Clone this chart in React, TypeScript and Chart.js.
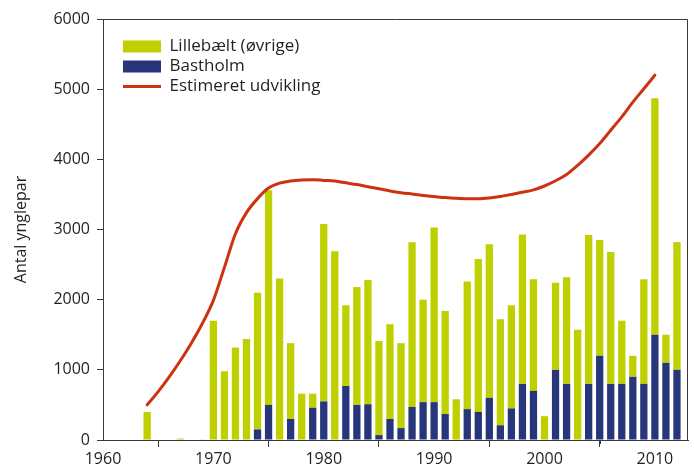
import React, { useEffect, useRef } from "react";
import { Chart, registerables } from "chart.js";

Chart.register(...registerables);

// ---- Data ----
const barYears = [
  1964, 1967, 1969, 1970, 1971, 1972, 1973, 1974, 1975, 1976, 1977, 1978, 1979,
  1980, 1981, 1982, 1983, 1984, 1985, 1986, 1987, 1988, 1989, 1990, 1991, 1992,
  1993, 1994, 1995, 1996, 1997, 1998, 1999, 2000, 2001, 2002, 2003, 2004, 2005,
  2006, 2007, 2008, 2009, 2010, 2011, 2012,
];
const bastholm = [
  0, 0, 0, 0, 0, 0, 0, 150, 500, 0, 300, 0, 460,
  550, 0, 770, 500, 510, 70, 300, 170, 470, 540, 540, 370, 0,
  440, 400, 600, 210, 450, 800, 700, 0, 1000, 800, 0, 800, 1200,
  800, 800, 900, 800, 1500, 1100, 1000,
];
const lillebaelt = [
  400, 20, 10, 1700, 980, 1320, 1440, 1950, 3060, 2300, 1080, 660, 200,
  2530, 2690, 1150, 1680, 1770, 1340, 1350, 1210, 2350, 1460, 2490, 1470, 580,
  1820, 2180, 2190, 1510, 1470, 2130, 1590, 340, 1240, 1520, 1570, 2120, 1650,
  1880, 900, 300, 1490, 3370, 400, 1820,
];
const lineYears = [
  1964, 1965, 1966, 1967, 1968, 1969, 1970, 1971, 1972, 1973, 1974, 1975, 1976,
  1977, 1978, 1979, 1980, 1981, 1982, 1983, 1984, 1985, 1986, 1987, 1988, 1989,
  1990, 1991, 1992, 1993, 1994, 1995, 1996, 1997, 1998, 1999, 2000, 2001, 2002,
  2003, 2004, 2005, 2006, 2007, 2008, 2009, 2010,
];
const estimeret = [
  500, 690, 900, 1130, 1380, 1660, 1990, 2460, 2940, 3240, 3440, 3590, 3660,
  3690, 3705, 3710, 3700, 3690, 3665, 3640, 3610, 3580, 3550, 3525, 3505, 3485,
  3470, 3455, 3445, 3440, 3440, 3450, 3470, 3500, 3530, 3565, 3620, 3695, 3785,
  3915, 4060, 4225, 4415, 4605, 4815, 5005, 5200,
];
const xMajorTicks = [1960, 1970, 1980, 1990, 2000, 2010];
const xMinorTicks = [1965, 1995, 2005];
const xMin = 1960;
const xMax = 2013;
const yMin = 0;
const yMax = 6000;
const yStep = 1000;
const legendOrder = ["Lillebælt (øvrige)", "Bastholm", "Estimeret udvikling"];

// ---- Styles ----
const GREEN = "#bfd000";
const BLUE = "#27367a";
const RED = "#cc3212";
const TEXT = "#231f20";
const AXIS = "#3a3a3a";
const FONT = "'Open Sans', 'Noto Sans', sans-serif";

const framePlugin = {
  id: "frameAndMinor",
  beforeDraw(chart: any) {
    const lg = chart.legend;
    const ca = chart.chartArea;
    if (lg) {
      const w = lg.right - lg.left;
      const h = lg.bottom - lg.top;
      lg.left = ca.left + 17;
      lg.right = lg.left + w;
      lg.top = ca.top + 16;
      lg.bottom = lg.top + h;
    }
  },
  afterDraw(chart: any) {
    const { ctx, chartArea } = chart;
    const xs = chart.scales.x;
    ctx.save();
    ctx.strokeStyle = AXIS;
    ctx.lineWidth = 1;
    ctx.beginPath();
    ctx.moveTo(chartArea.left, chartArea.top + 0.5);
    ctx.lineTo(chartArea.right - 0.5, chartArea.top + 0.5);
    ctx.lineTo(chartArea.right - 0.5, chartArea.bottom);
    ctx.stroke();
    ctx.beginPath();
    for (const v of xMinorTicks) {
      const px = Math.round(xs.getPixelForValue(v)) + 0.5;
      ctx.moveTo(px, chartArea.bottom);
      ctx.lineTo(px, chartArea.bottom + 4);
    }
    ctx.stroke();
    ctx.restore();
  },
};

export default function App() {
  const ref = useRef<HTMLCanvasElement>(null);

  useEffect(() => {
    document.body.style.margin = "0";
    const chart = new Chart(ref.current as HTMLCanvasElement, {
      type: "bar",
      data: {
        datasets: [
          {
            type: "line",
            label: "Estimeret udvikling",
            data: lineYears.map((x, i) => ({ x, y: estimeret[i] })),
            borderColor: RED,
            backgroundColor: RED,
            borderWidth: 3,
            pointRadius: 0,
            cubicInterpolationMode: "monotone",
            borderCapStyle: "round",
            fill: false,
          } as any,
          {
            type: "bar",
            label: "Bastholm",
            data: barYears.map((x, i) => ({ x, y: bastholm[i] })),
            backgroundColor: BLUE,
            borderWidth: 0,
            categoryPercentage: 1,
            barPercentage: 0.66,
          },
          {
            type: "bar",
            label: "Lillebælt (øvrige)",
            data: barYears.map((x, i) => ({ x, y: lillebaelt[i] })),
            backgroundColor: GREEN,
            borderWidth: 0,
            categoryPercentage: 1,
            barPercentage: 0.66,
          },
        ],
      },
      options: {
        responsive: false,
        animation: false,
        devicePixelRatio: 1,
        layout: { padding: { top: 19, right: 6, left: 0, bottom: 0 } },
        scales: {
          x: {
            type: "linear",
            min: xMin,
            max: xMax,
            stacked: true,
            offset: false,
            afterBuildTicks: (s: any) => {
              s.ticks = xMajorTicks.map((v) => ({ value: v }));
            },
            afterFit: (s: any) => {
              s.height = 33;
            },
            grid: {
              drawOnChartArea: false,
              drawTicks: true,
              tickLength: 7,
              color: AXIS,
            },
            border: { display: true, color: AXIS, width: 1 },
            ticks: {
              autoSkip: false,
              maxRotation: 0,
              padding: 3,
              color: TEXT,
              font: { family: FONT, size: 16 },
              callback: (v: any) => String(v),
            },
          },
          y: {
            min: yMin,
            max: yMax,
            stacked: true,
            afterFit: (s: any) => {
              s.width = 103;
            },
            grid: {
              drawOnChartArea: false,
              drawTicks: true,
              tickLength: 6,
              color: AXIS,
            },
            border: { display: true, color: AXIS, width: 1 },
            ticks: {
              stepSize: yStep,
              padding: 7,
              color: TEXT,
              font: { family: FONT, size: 16 },
              callback: (v: any) => String(v),
            },
            title: {
              display: true,
              text: "Antal ynglepar",
              color: TEXT,
              font: { family: FONT, size: 16 },
              padding: { top: 12, bottom: 0 },
            },
          },
        },
        plugins: {
          tooltip: { enabled: false },
          legend: {
            position: "chartArea",
            align: "start",
            labels: {
              usePointStyle: true,
              pointStyleWidth: 38,
              boxHeight: 12,
              padding: 3,
              color: TEXT,
              font: { family: FONT, size: 17 },
              generateLabels: (c: any) => {
                const items = Chart.defaults.plugins.legend.labels.generateLabels(c);
                return items.map((it: any) => {
                  const isLine = it.text === "Estimeret udvikling";
                  return {
                    ...it,
                    pointStyle: isLine ? "line" : "rect",
                    lineWidth: isLine ? 3 : 0,
                    strokeStyle: isLine ? RED : it.strokeStyle,
                  };
                });
              },
              sort: (a: any, b: any) =>
                legendOrder.indexOf(a.text) - legendOrder.indexOf(b.text),
            },
          },
        },
      },
      plugins: [framePlugin],
    });
    return () => chart.destroy();
  }, []);

  return (
    <div style={{ width: 694, height: 473 }}>
      <canvas ref={ref} width={694} height={473} />
    </div>
  );
}
